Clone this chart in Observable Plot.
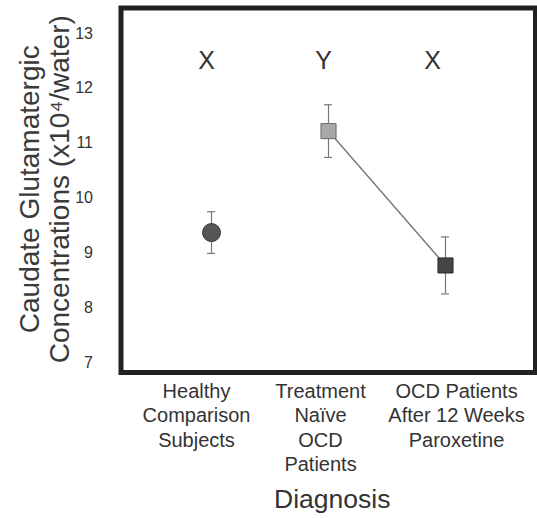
<!DOCTYPE html>
<html>
<head>
<meta charset="utf-8">
<script src="https://cdn.jsdelivr.net/npm/d3@7"></script>
<script src="https://cdn.jsdelivr.net/npm/@observablehq/plot@0.6"></script>
<style>
  html, body { margin: 0; padding: 0; background: #fff; }
  #chart svg { display: block; font-family: "Liberation Sans", Arial, Helvetica, sans-serif; }
</style>
</head>
<body>
<div id="chart"></div>
<script>
// Caudate glutamatergic concentrations by diagnosis group (mean ± SE)
const groups = [
  "Healthy\nComparison\nSubjects",
  "Treatment\nNaïve\nOCD\nPatients",
  "OCD Patients\nAfter 12 Weeks\nParoxetine"
];
const means = [9.37, 11.22, 8.77];
const errors = [0.38, 0.48, 0.52];
const letters = ["X", "Y", "X"];
const yTicks = [7, 8, 9, 10, 11, 12, 13];

const rows = groups.map((g, i) => ({
  group: g,
  mean: means[i],
  lo: means[i] - errors[i],
  hi: means[i] + errors[i],
  letter: letters[i]
}));

// marker styling per group
const fills = ["#565656", "#a8a8a8", "#454545"];
const strokes = ["#3a3a3a", "#6a6a6a", "#2a2a2a"];
const symbols = ["circle", "square", "square"];
const radii = [9, 8.5, 8.5];

// small horizontal nudges for the letter and category annotations
const letterNudge = [-5, -5, -13];
const labelNudge = [-15, -8, 11];

const font = "Liberation Sans, Arial, Helvetica, sans-serif";

const chart = Plot.plot({
  width: 537,
  height: 518,
  marginLeft: 120.5,
  marginRight: 2,
  marginTop: 7.5,
  marginBottom: 146,
  style: { fontFamily: font, background: "#fff", color: "#333" },
  // narrow bands so the error-bar caps take the band width
  x: { type: "band", domain: groups, paddingInner: 0.932, paddingOuter: 0.73, axis: null },
  y: { domain: [6.818, 13.465], axis: null },
  marks: [
    Plot.axisY(yTicks, {
      anchor: "left", tickSize: 0, tickPadding: 28, fontSize: 16,
      tickFormat: "d", fill: "#333", label: null
    }),
    // error bars
    Plot.ruleX(rows, { x: "group", y1: "lo", y2: "hi", stroke: "#777", strokeWidth: 1.2 }),
    Plot.tickY(rows, { x: "group", y: "lo", stroke: "#777", strokeWidth: 1.2 }),
    Plot.tickY(rows, { x: "group", y: "hi", stroke: "#777", strokeWidth: 1.2 }),
    // treatment change line
    Plot.line(rows.slice(1), { x: "group", y: "mean", stroke: "#7a7a7a", strokeWidth: 1.5 }),
    // group means
    ...rows.map((d, i) => Plot.dot([d], {
      x: "group", y: "mean", symbol: symbols[i], r: radii[i],
      fill: fills[i], stroke: strokes[i], strokeWidth: 1
    })),
    // significance letters
    ...rows.map((d, i) => Plot.text([d], {
      x: "group", text: "letter", frameAnchor: "top", dy: 52.5, dx: letterNudge[i],
      lineAnchor: "middle", fontSize: 25, fill: "#333"
    })),
    // category labels
    ...rows.map((d, i) => Plot.text([d], {
      x: "group", text: "group", frameAnchor: "bottom", dy: 8, dx: labelNudge[i],
      lineAnchor: "top", lineHeight: 1.225, fontSize: 20, fill: "#333"
    })),
    // axis titles
    Plot.text(["Diagnosis"], {
      frameAnchor: "bottom", dy: 127, dx: 4, lineAnchor: "middle",
      fontSize: 26.5, fill: "#333"
    }),
    Plot.text(["Caudate Glutamatergic\nConcentrations (x10\u2074/water)"], {
      frameAnchor: "left", dx: -76.5, dy: -1, rotate: -90, textAnchor: "middle", lineAnchor: "middle",
      lineHeight: 1.07, fontSize: 28, fill: "#3a3a3a"
    }),
    Plot.frame({ stroke: "#222", strokeWidth: 5 })
  ]
});

document.getElementById("chart").appendChild(chart);
</script>
</body>
</html>
